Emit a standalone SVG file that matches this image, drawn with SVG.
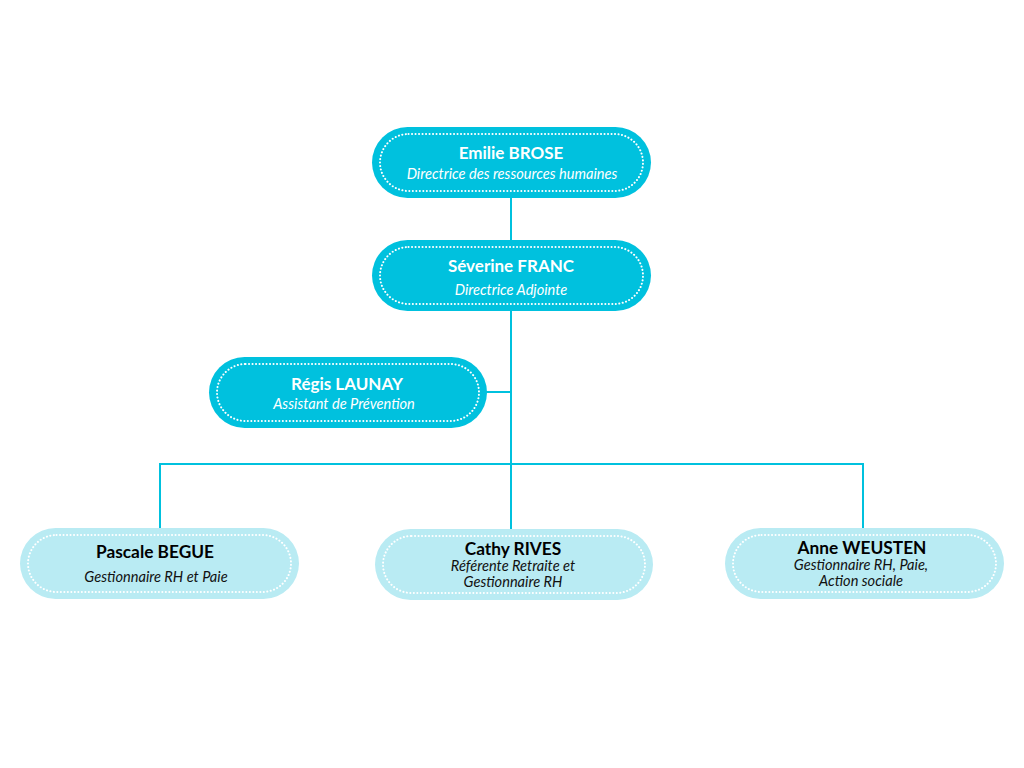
<svg xmlns="http://www.w3.org/2000/svg" width="1024" height="768" viewBox="0 0 1024 768">
<style>
.dark{fill:#00C1DE}
.light{fill:#B9EBF3}
.dots{fill:none;stroke:#fff;stroke-width:2;stroke-dasharray:0.1 3.4;stroke-linecap:round}
.conn{fill:none;stroke:#00C1DE;stroke-width:2}
.nw{font-family:"Lato","Liberation Sans",sans-serif;font-weight:700;font-size:17px;fill:#fff;text-anchor:middle}
.sw{font-family:"Lato","Liberation Sans",sans-serif;font-style:italic;font-size:14.6px;fill:#fff;text-anchor:middle}
.nb{font-family:"Lato","Liberation Sans",sans-serif;font-weight:700;font-size:17.3px;fill:#000;text-anchor:middle}
.sb{font-family:"Lato","Liberation Sans",sans-serif;font-style:italic;font-size:14.6px;fill:#111;text-anchor:middle}
</style>
<rect width="1024" height="768" fill="#fff"/>
<g id="connectors">
<line class="conn" x1="511" y1="197" x2="511" y2="241"/>
<line class="conn" x1="511" y1="310" x2="511" y2="530"/>
<line class="conn" x1="486" y1="392" x2="511" y2="392"/>
<polyline class="conn" points="160,529 160,464 863,464 863,529"/>
</g>
<g id="emilie">
<rect class="dark" x="372" y="127" width="279" height="71" rx="35.5"/>
<rect class="dots" x="380" y="134" width="263" height="57" rx="28.5"/>
<text class="nw" x="511" y="159">Emilie BROSE</text>
<text class="sw" x="512" y="179">Directrice des ressources humaines</text>
</g>
<g id="severine">
<rect class="dark" x="372" y="240" width="279" height="71" rx="35.5"/>
<rect class="dots" x="380" y="247" width="263" height="57" rx="28.5"/>
<text class="nw" x="511" y="272">Séverine FRANC</text>
<text class="sw" x="511" y="295">Directrice Adjointe</text>
</g>
<g id="regis">
<rect class="dark" x="209" y="357" width="278" height="71" rx="35.5"/>
<rect class="dots" x="217" y="364" width="262" height="57" rx="28.5"/>
<text class="nw" x="347" y="390">Régis LAUNAY</text>
<text class="sw" x="344" y="409">Assistant de Prévention</text>
</g>
<g id="pascale">
<rect class="light" x="20" y="528" width="279" height="71" rx="35.5"/>
<rect class="dots" x="28" y="535" width="263" height="57" rx="28.5"/>
<text class="nb" x="155" y="558">Pascale BEGUE</text>
<text class="sb" x="156" y="582">Gestionnaire RH et Paie</text>
</g>
<g id="cathy">
<rect class="light" x="375" y="529" width="278" height="71" rx="35.5"/>
<rect class="dots" x="383" y="536" width="262" height="57" rx="28.5"/>
<text class="nb" x="513" y="555">Cathy RIVES</text>
<text class="sb" x="513" y="571">Référente Retraite et</text>
<text class="sb" x="513" y="587">Gestionnaire RH</text>
</g>
<g id="anne">
<rect class="light" x="725" y="528" width="279" height="71" rx="35.5"/>
<rect class="dots" x="733" y="535" width="263" height="57" rx="28.5"/>
<text class="nb" x="862" y="554">Anne WEUSTEN</text>
<text class="sb" x="861" y="570">Gestionnaire RH, Paie,</text>
<text class="sb" x="861" y="586">Action sociale</text>
</g>
</svg>
